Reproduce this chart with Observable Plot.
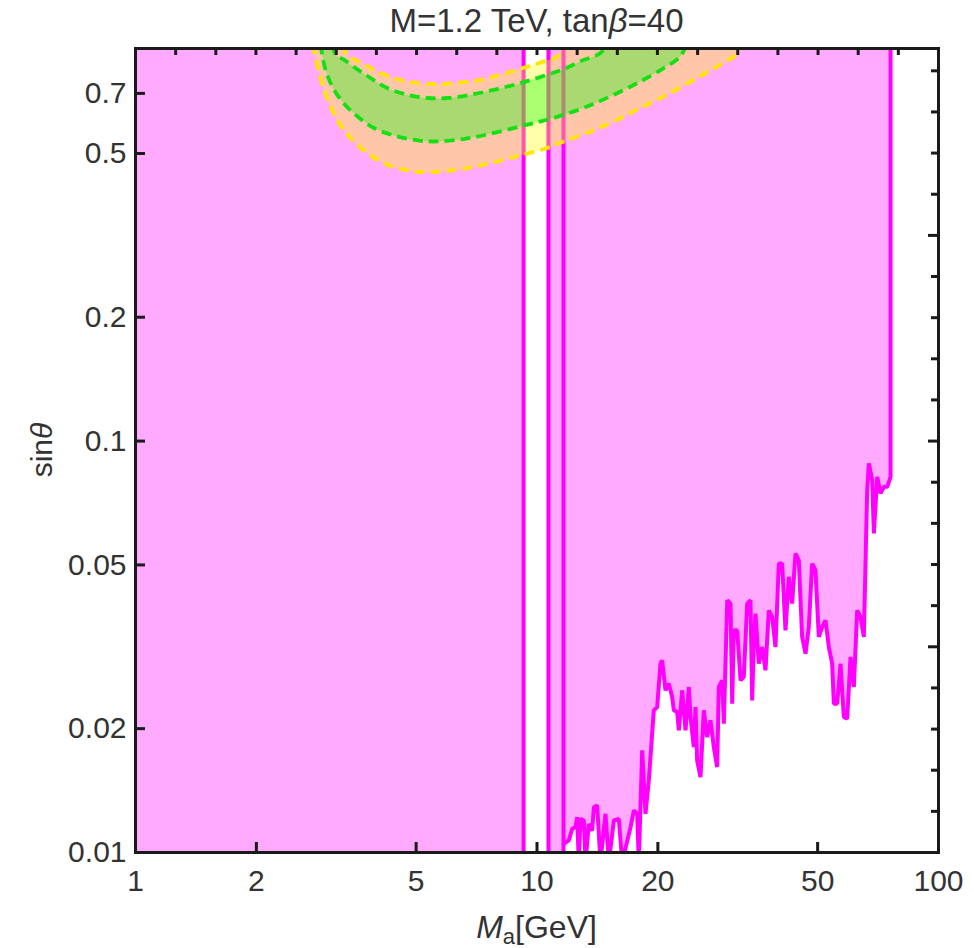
<!DOCTYPE html>
<html><head><meta charset="utf-8">
<script src="https://cdn.jsdelivr.net/npm/d3@7"></script>
<script src="https://cdn.jsdelivr.net/npm/@observablehq/plot@0.6"></script>
<style>
body{margin:0;background:#fff;}
#chart{width:974px;height:948px;}
</style>
</head><body><div id="chart"></div>
<script>
// ---------- data ----------
const xDomain = [1, 100];
const yDomain = [0.01, 0.9];
const xTicks = [1, 2, 5, 10, 20, 50, 100];
const xTickLabels = ["1", "2", "5", "10", "20", "50", "100"];
const yTicks = [0.01, 0.02, 0.05, 0.1, 0.2, 0.5, 0.7];
const yTickLabels = ["0.01", "0.02", "0.05", "0.1", "0.2", "0.5", "0.7"];
const topMinorTicks = [1.259, 1.585, 1.995, 2.512, 3.162, 3.981, 5.012, 6.310, 7.943, 10, 12.59, 15.85, 19.95, 25.12, 31.62, 39.81, 50.12, 63.10, 79.43];
const rightMinorTicks = [0.01259, 0.01585, 0.01995, 0.02512, 0.03981, 0.05012, 0.06310, 0.07943, 0.1259, 0.1585, 0.1995, 0.2512, 0.3981, 0.5012, 0.6310, 0.7943];
const rightMajorTicks = [0.03162, 0.1, 0.3162];

// fully excluded mass windows [lo, hi] (GeV)
const fullLo = [1, 10.68];
const fullHi = [9.26, 11.64];
// vertical boundaries of the excluded windows
const edgeMasses = [9.26, 10.68, 11.64];

// exclusion boundary above 11.6 GeV
const jagMass = [11.66, 12.00, 12.24, 12.47, 12.59, 12.71, 12.83, 13.08, 13.21, 13.46, 13.72, 13.86, 14.12, 14.39, 14.81, 15.10, 15.54, 15.99, 16.30, 17.10, 17.43, 17.76, 17.93, 18.28, 18.63, 18.99, 19.54, 19.92, 20.30, 20.50, 20.89, 21.30, 21.71, 21.92, 22.34, 22.56, 22.99, 23.44, 23.89, 24.12, 24.58, 24.82, 25.05, 25.54, 26.03, 26.53, 27.04, 27.57, 28.10, 28.37, 28.92, 29.20, 29.77, 30.34, 30.63, 30.92, 31.52, 32.13, 32.74, 33.38, 34.02, 34.35, 34.67, 35.01, 35.68, 36.37, 37.08, 37.79, 38.52, 39.26, 40.02, 40.79, 41.58, 42.38, 43.20, 44.03, 44.88, 45.75, 46.64, 47.53, 48.46, 49.38, 50.34, 51.31, 52.31, 53.32, 54.35, 54.87, 55.93, 57.01, 58.11, 59.23, 60.38, 61.54, 62.73, 63.94, 65.17, 66.43, 67.07, 68.37, 69.03, 70.36, 71.72, 73.11, 74.52, 75.96, 75.96];
const jagSin = [0.0105, 0.0107, 0.01142, 0.01152, 0.01219, 0.0095, 0.01207, 0.01196, 0.0095, 0.01174, 0.01131, 0.01289, 0.01301, 0.0095, 0.01242, 0.0095, 0.01196, 0.01207, 0.0095, 0.01152, 0.01265, 0.01242, 0.0095, 0.01771, 0.01242, 0.01497, 0.02216, 0.02257, 0.02877, 0.02932, 0.02479, 0.02573, 0.02387, 0.02216, 0.02195, 0.01981, 0.02479, 0.01981, 0.02525, 0.02134, 0.01804, 0.02257, 0.01674, 0.01525, 0.02216, 0.01908, 0.02095, 0.01804, 0.01613, 0.02525, 0.02621, 0.02056, 0.04103, 0.04027, 0.02300, 0.03468, 0.03468, 0.02621, 0.02671, 0.04027, 0.04103, 0.02343, 0.03218, 0.03807, 0.02877, 0.03158, 0.02772, 0.03879, 0.03737, 0.03158, 0.05040, 0.05040, 0.03468, 0.04677, 0.04027, 0.05330, 0.05135, 0.03341, 0.03043, 0.03533, 0.05040, 0.04856, 0.03341, 0.03533, 0.03668, 0.03158, 0.02877, 0.02300, 0.02300, 0.02877, 0.02134, 0.02115, 0.02987, 0.02525, 0.03879, 0.03737, 0.03341, 0.07600, 0.08825, 0.08037, 0.05963, 0.08189, 0.07460, 0.07744, 0.07744, 0.08189, 0.92];

// 2-sigma band (yellow)
const yLowMass = [2.77, 2.797, 2.860, 2.944, 3.060, 3.209, 3.432, 3.777, 4.236, 4.934, 5.430, 6.327, 7.370, 8.590, 9.218, 10.60, 11.66, 13.34, 15.54, 18.11, 21.10, 25.06, 28.64, 31.52, 32.2];
const yLowSin = [0.92, 0.8695, 0.7917, 0.7145, 0.6508, 0.5929, 0.5452, 0.5012, 0.4694, 0.4522, 0.4507, 0.4565, 0.4694, 0.4873, 0.4965, 0.5155, 0.5350, 0.5608, 0.5984, 0.6450, 0.6948, 0.7630, 0.8218, 0.8743, 0.92];
const yUpMass = [3.30, 3.368, 3.634, 4.000, 4.399, 4.934, 5.534, 6.206, 7.098, 8.111, 9.218, 10.40, 11.23, 11.7];
const yUpSin = [0.92, 0.8695, 0.8325, 0.7917, 0.7630, 0.7444, 0.7378, 0.7419, 0.7527, 0.7771, 0.8068, 0.8375, 0.8610, 0.92];
// 1-sigma band (green)
const gLowMass = [2.89, 2.917, 2.973, 3.090, 3.272, 3.531, 3.923, 4.485, 5.127, 5.641, 6.572, 7.659, 9.218, 10.60, 11.66, 13.34, 15.54, 18.11, 20.69, 22.77, 23.5];
const gLowSin = [0.92, 0.8695, 0.7991, 0.7278, 0.6692, 0.6211, 0.5766, 0.5502, 0.5370, 0.5350, 0.5422, 0.5585, 0.5840, 0.6039, 0.6211, 0.6508, 0.6948, 0.7486, 0.8068, 0.8610, 0.92];
const gUpMass = [3.10, 3.148, 3.303, 3.531, 3.849, 4.236, 4.750, 5.328, 5.973, 6.829, 7.960, 9.218, 10.60, 11.66, 12.83, 14.39, 14.9];
const gUpSin = [0.92, 0.8695, 0.8453, 0.8068, 0.7630, 0.7214, 0.6948, 0.6822, 0.6822, 0.6948, 0.7173, 0.7444, 0.7771, 0.8024, 0.8375, 0.8777, 0.92];

// ---------- build tables ----------
const pts = (ms, ss) => ms.map((m, i) => ({m, s: ss[i]}));
const fullWins = fullLo.map((lo, i) => ({lo, hi: fullHi[i]}));
const jag = pts(jagMass, jagSin);
const yLow = pts(yLowMass, yLowSin), yUp = pts(yUpMass, yUpSin);
const gLow = pts(gLowMass, gLowSin), gUp = pts(gUpMass, gUpSin);
const yBand = yLow.concat(yUp.slice().reverse());
const gBand = gLow.concat(gUp.slice().reverse());

const W = 974, H = 948, mL = 135, mR = 36, mT = 48, mB = 96;
const fW = W - mL - mR, fH = H - mT - mB;
const ink = "#1a1a1a", txt = "#333";
const pink = "#ffaaff", magenta = "#ff00ff";
const curve = "catmull-rom";
const font = "'Liberation Sans', Arial, Helvetica, sans-serif";
const dash = {strokeWidth: 3.8, strokeDasharray: "10,6", strokeLinecap: "butt", curve, clip: true};

const plot = Plot.plot({
  width: W, height: H,
  marginLeft: mL, marginRight: mR, marginTop: mT, marginBottom: mB,
  style: {fontFamily: font, background: "white", color: txt},
  x: {type: "log", domain: xDomain, axis: null},
  y: {type: "log", domain: yDomain, axis: null},
  marks: [
    Plot.rect(fullWins, {x1: "lo", x2: "hi", y1: yDomain[0], y2: yDomain[1], fill: pink, clip: true}),
    Plot.areaY(jag, {x: "m", y1: "s", y2: yDomain[1], fill: pink, clip: true}),
    Plot.ruleX(edgeMasses, {x: d => d, stroke: magenta, strokeWidth: 4, clip: true}),
    Plot.line(jag, {x: "m", y: "s", stroke: magenta, strokeWidth: 4, strokeLinejoin: "miter", clip: true}),
    Plot.line(yBand, {x: "m", y: "s", fill: "#ffff00", fillOpacity: 1/3, stroke: "none", curve, clip: true}),
    Plot.line(gBand, {x: "m", y: "s", fill: "#00ff00", fillOpacity: 1/3, stroke: "none", curve, clip: true}),
    Plot.line(gLow, {x: "m", y: "s", stroke: "#14e014", ...dash}),
    Plot.line(gUp, {x: "m", y: "s", stroke: "#14e014", ...dash}),
    Plot.line(yLow, {x: "m", y: "s", stroke: "#ffe600", ...dash}),
    Plot.line(yUp, {x: "m", y: "s", stroke: "#ffe600", ...dash}),
    // inward ticks
    Plot.tickX(xTicks, {x: d => d, insetTop: fH - 10, stroke: ink, strokeWidth: 3}),
    Plot.tickX(topMinorTicks, {x: d => d, insetBottom: fH - 7, stroke: ink, strokeWidth: 3}),
    Plot.tickY(yTicks, {y: d => d, insetRight: fW - 10, stroke: ink, strokeWidth: 3}),
    Plot.tickY(rightMinorTicks, {y: d => d, insetLeft: fW - 7, stroke: ink, strokeWidth: 3}),
    Plot.tickY(rightMajorTicks, {y: d => d, insetLeft: fW - 10, stroke: ink, strokeWidth: 3}),
    Plot.frame({stroke: ink, strokeWidth: 3}),
    // tick labels
    Plot.text(xTicks, {x: d => d, text: xTickLabels, frameAnchor: "bottom", lineAnchor: "top", dy: 17, fontSize: 30, fill: txt}),
    Plot.text(yTicks, {y: d => d, text: yTickLabels, frameAnchor: "left", textAnchor: "end", dx: -9, fontSize: 30, fill: txt})
  ]
});

document.getElementById("chart").appendChild(plot);

// rich-text title and axis labels
const svg = d3.select(plot);
const cx = mL + fW / 2;
const t = svg.append("text").attr("x", cx).attr("y", 32).attr("text-anchor", "middle")
  .attr("font-family", font).attr("font-size", 33).attr("fill", txt);
t.append("tspan").text("M=1.2 TeV, tan");
t.append("tspan").attr("font-style", "italic").text("β");
t.append("tspan").text("=40");

const xl = svg.append("text").attr("x", cx).attr("y", 938).attr("text-anchor", "middle")
  .attr("font-family", font).attr("font-size", 32).attr("fill", txt);
xl.append("tspan").attr("font-style", "italic").text("M");
xl.append("tspan").attr("font-size", 22).attr("dy", 6).text("a");
xl.append("tspan").attr("dy", -6).text("[GeV]");

const yl = svg.append("text").attr("transform", `translate(52,${mT + fH / 2}) rotate(-90)`).attr("text-anchor", "middle")
  .attr("font-family", font).attr("font-size", 30).attr("fill", txt);
yl.append("tspan").text("sin");
yl.append("tspan").attr("font-style", "italic").text("θ");
</script>
</body></html>
